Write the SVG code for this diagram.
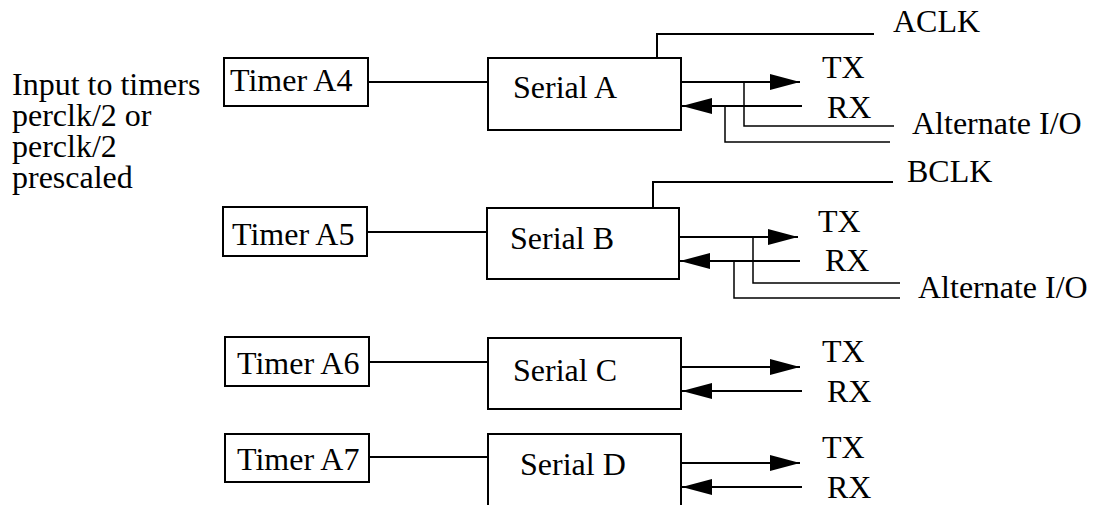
<svg xmlns="http://www.w3.org/2000/svg" width="1093" height="505" viewBox="0 0 1093 505" font-family="'Liberation Serif', 'Times New Roman', 'DejaVu Serif', serif" font-size="32">
  <style>
    .box { fill: #fff; stroke: #000; stroke-width: 2; }
    .wire { fill: none; stroke: #000; stroke-width: 2; }
    .thin { fill: none; stroke: #000; stroke-width: 1.5; }
    .arrow { fill: none; stroke: #000; stroke-width: 2; marker-end: url(#head); }
  </style>
  <defs>
    <marker id="head" viewBox="0 0 30 16" refX="30" refY="8" markerWidth="30" markerHeight="16" markerUnits="userSpaceOnUse" orient="auto">
      <path d="M0,0 L30,8 L0,16 Z" fill="#000"/>
    </marker>
  </defs>

  <!-- side note -->
  <g id="note">
    <text x="12" y="95">Input to timers</text>
    <text x="12" y="126">perclk/2 or</text>
    <text x="12" y="157">perclk/2</text>
    <text x="12" y="188">prescaled</text>
  </g>

  <!-- connectors -->
  <g id="connectors">
    <!-- timer to serial -->
    <line class="wire" x1="368" y1="82" x2="488" y2="82"/>
    <line class="wire" x1="367" y1="232" x2="487" y2="232"/>
    <line class="wire" x1="369" y1="362" x2="488" y2="362"/>
    <line class="wire" x1="369" y1="457" x2="488" y2="457"/>

    <!-- clocks -->
    <polyline class="wire" points="657,58 657,34 874,34"/>
    <polyline class="wire" points="653,208 653,182 893,182"/>

    <!-- serial A TX/RX -->
    <line class="arrow" x1="681" y1="82" x2="800" y2="82"/>
    <line class="arrow" x1="802" y1="106" x2="682" y2="106"/>
    <polyline class="thin" points="744,82 744,126 894,126"/>
    <polyline class="thin" points="725,106 725,142 890,142"/>

    <!-- serial B TX/RX -->
    <line class="arrow" x1="679" y1="237" x2="798" y2="237"/>
    <line class="arrow" x1="800" y1="261" x2="680" y2="261"/>
    <polyline class="thin" points="753,237 753,283 900,283"/>
    <polyline class="thin" points="734,261 734,298 900,298"/>

    <!-- serial C TX/RX -->
    <line class="arrow" x1="681" y1="367" x2="800" y2="367"/>
    <line class="arrow" x1="802" y1="391" x2="682" y2="391"/>

    <!-- serial D TX/RX -->
    <line class="arrow" x1="681" y1="463" x2="800" y2="463"/>
    <line class="arrow" x1="802" y1="487" x2="682" y2="487"/>
  </g>

  <!-- timers -->
  <g id="timer-a4">
    <rect class="box" x="224" y="58" width="144" height="48"/>
    <text x="230" y="91">Timer A4</text>
  </g>
  <g id="timer-a5">
    <rect class="box" x="223" y="207" width="144" height="49"/>
    <text x="232" y="245">Timer A5</text>
  </g>
  <g id="timer-a6">
    <rect class="box" x="225" y="337" width="144" height="49"/>
    <text x="237" y="374">Timer A6</text>
  </g>
  <g id="timer-a7">
    <rect class="box" x="225" y="434" width="144" height="48"/>
    <text x="237" y="470">Timer A7</text>
  </g>

  <!-- serial ports -->
  <g id="serial-a">
    <rect class="box" x="488" y="58" width="193" height="72"/>
    <text x="513" y="98">Serial A</text>
  </g>
  <g id="serial-b">
    <rect class="box" x="487" y="208" width="192" height="71"/>
    <text x="510" y="249">Serial B</text>
  </g>
  <g id="serial-c">
    <rect class="box" x="488" y="338" width="193" height="71"/>
    <text x="513" y="381">Serial C</text>
  </g>
  <g id="serial-d">
    <polyline class="wire" points="488,506 488,434 681,434 681,506"/>
    <text x="520" y="475">Serial D</text>
  </g>

  <!-- signal labels -->
  <g id="labels">
    <text x="893" y="32">ACLK</text>
    <text x="822" y="78">TX</text>
    <text x="827" y="118">RX</text>
    <text x="912" y="134">Alternate I/O</text>

    <text x="907" y="182">BCLK</text>
    <text x="818" y="232">TX</text>
    <text x="825" y="271">RX</text>
    <text x="918" y="298">Alternate I/O</text>

    <text x="822" y="362">TX</text>
    <text x="827" y="402">RX</text>

    <text x="822" y="458">TX</text>
    <text x="827" y="498">RX</text>
  </g>
</svg>
